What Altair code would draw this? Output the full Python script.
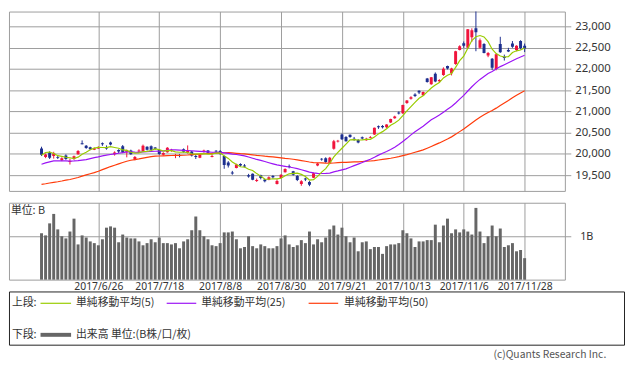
import altair as alt
import pandas as pd

# ---------------- data ----------------
# closes before the displayed window (needed for the moving averages)
pre_close = [19263, 18986, 19203, 19217, 19063, 18909,
             18983, 18810, 18861, 18597, 18665,
             18798, 18748, 18553, 18427, 18336,
             18355, 18419, 18432, 18430, 18621,
             18876, 19079, 19289, 19252, 19197,
             19311, 19446,
             19896, 19843, 19900, 19962, 19884,
             19870, 19920, 19815, 19554, 19591,
             19678, 19613, 19743, 19813, 19687,
             19683, 19678, 19651,
             19860, 20177, 20171]

opens = [20130, 19930, 20030, 19950, 19930, 19850, 19960, 19810, 19880, 19990,
         20252, 20190, 20160, 20100, 20130, 20250, 20150, 20270, 19990, 20090,
         20180, 20040, 20080, 19870, 20060, 20070, 20170, 20180, 20150, 20090,
         19980, 20040, 20080, 19950, 19975, 20110, 20030, 20060, 19950, 19910,
         20060, 20080, 19930, 20075, 20070, 19950, 19800, 19560, 19670, 19760,
         19725, 19500, 19530, 19360, 19500, 19400, 19390, 19480, 19290, 19430,
         19570, 19710, 19590, 19480, 19290, 19420, 19340, 19440, 19730, 19885,
         19900, 19780, 20120, 20290, 20460, 20400, 20450, 20360, 20330, 20390,
         20320, 20380, 20460, 20650, 20660, 20630, 20740, 20840, 20975, 20960,
         21200, 21300, 21400, 21490, 21380, 21780, 21640, 21890, 21710, 21860,
         22070, 21900, 22120, 22450, 22610, 22500, 22750, 22960, 22500, 22590,
         22320, 22240, 22000, 22590, 22290, 22450, 22600, 22450, 22660, 22550]

highs = [20170, 20010, 20060, 20050, 19960, 19920, 19990, 19880, 19960, 20090,
         20318, 20210, 20170, 20150, 20180, 20270, 20200, 20290, 20060, 20110,
         20210, 20100, 20100, 19950, 20110, 20220, 20180, 20200, 20160, 20100,
         20040, 20160, 20120, 20000, 20000, 20130, 20200, 20070, 19990, 19990,
         20100, 20090, 19990, 20090, 20090, 19960, 19830, 19600, 19770, 19780,
         19760, 19530, 19540, 19420, 19510, 19410, 19470, 19500, 19400, 19520,
         19660, 19750, 19600, 19500, 19380, 19440, 19360, 19560, 19790, 19900,
         19920, 19930, 20330, 20330, 20480, 20420, 20460, 20400, 20350, 20410,
         20380, 20420, 20620, 20670, 20680, 20700, 20830, 20900, 21000, 21160,
         21270, 21360, 21430, 21500, 21470, 21790, 21810, 21920, 21760, 22040,
         22080, 22030, 22430, 22560, 22650, 22940, 22960, 23382, 22720, 22610,
         22400, 22260, 22370, 22760, 22340, 22500, 22660, 22560, 22680, 22600]

lows = [19950, 19900, 19880, 19890, 19880, 19830, 19860, 19750, 19860, 19980,
        20225, 20120, 20090, 20090, 20120, 20190, 20100, 20200, 19960, 20020,
        20020, 19920, 19980, 19850, 20040, 20060, 20080, 20090, 20100, 19980,
        19960, 20030, 20050, 19900, 19920, 20030, 20010, 19940, 19880, 19900,
        20030, 20000, 19920, 20030, 19980, 19650, 19680, 19510, 19660, 19700,
        19680, 19440, 19380, 19340, 19400, 19330, 19380, 19420, 19280, 19420,
        19560, 19660, 19490, 19360, 19250, 19360, 19240, 19430, 19710, 19840,
        19790, 19760, 20100, 20270, 20330, 20290, 20380, 20310, 20250, 20340,
        20310, 20370, 20450, 20590, 20600, 20610, 20730, 20830, 20930, 20940,
        21180, 21280, 21340, 21410, 21370, 21680, 21630, 21690, 21680, 21840,
        21990, 21850, 22100, 22440, 22500, 22480, 22640, 22420, 22480, 22370,
        22280, 21980, 21970, 22380, 22200, 22400, 22500, 22420, 22460, 22400]

closes = [19980, 19985, 19909, 20013, 19908, 19898, 19883, 19831, 19943, 20067,
          20230, 20138, 20110, 20132, 20153, 20225, 20130, 20220, 20033, 20055,
          20032, 20081, 19994, 19929, 20081, 20195, 20098, 20100, 20119, 20000,
          20021, 20145, 20100, 19976, 19955, 20050, 20080, 19960, 19925, 19986,
          20080, 20029, 19952, 20056, 19996, 19739, 19730, 19537, 19753, 19729,
          19703, 19470, 19393, 19384, 19435, 19354, 19453, 19450, 19363, 19507,
          19646, 19691, 19508, 19386, 19358, 19397, 19275, 19546, 19777, 19866,
          19807, 19910, 20299, 20310, 20347, 20296, 20398, 20330, 20267, 20363,
          20356, 20401, 20614, 20627, 20629, 20691, 20824, 20881, 20955, 21155,
          21256, 21336, 21363, 21449, 21458, 21697, 21805, 21708, 21740, 22008,
          22012, 22012, 22420, 22539, 22548, 22937, 22914, 22869, 22681, 22381,
          22380, 22028, 22351, 22397, 22262, 22416, 22523, 22551, 22496, 22486]

volumes = [1.08, 1.03, 1.31, 1.53, 1.17, 1.01, 0.96, 1.12, 1.42, 0.82,
           1.03, 0.98, 0.89, 0.85, 0.80, 0.94, 1.21, 1.24, 1.21, 0.87,
           1.05, 0.98, 0.96, 0.96, 0.89, 0.80, 0.85, 0.94, 0.87, 0.98,
           0.85, 0.85, 0.82, 0.85, 0.73, 0.89, 0.94, 1.15, 1.47, 1.15,
           1.01, 0.94, 0.80, 0.78, 0.85, 1.10, 1.10, 1.12, 0.94, 0.73,
           0.76, 1.01, 0.78, 0.73, 0.82, 0.78, 0.73, 0.73, 0.78, 0.96,
           1.03, 0.82, 0.76, 0.80, 0.92, 0.85, 1.12, 0.82, 0.94, 0.87,
           0.98, 1.17, 1.26, 1.05, 1.21, 1.01, 0.87, 0.98, 0.66, 0.87,
           0.89, 0.71, 0.76, 0.76, 0.60, 0.78, 0.82, 0.82, 0.85, 1.15,
           1.08, 0.96, 0.76, 0.89, 0.89, 0.92, 0.92, 1.28, 0.87, 1.26,
           1.42, 1.08, 1.17, 1.10, 1.17, 1.12, 1.05, 1.67, 1.12, 0.85,
           1.01, 1.26, 1.01, 1.19, 0.76, 0.80, 0.85, 0.66, 0.69, 0.50]

date_labels = ["2017/6/26", "2017/7/18", "2017/8/8", "2017/8/30",
               "2017/9/21", "2017/10/13", "2017/11/6", "2017/11/28"]
date_idx = [14, 29, 44, 59, 74, 89, 104, 119]
price_ticks = [19500, 20000, 20500, 21000, 21500, 22000, 22500, 23000]
ma_labels = ["単純移動平均(5)", "単純移動平均(25)", "単純移動平均(50)"]
vol_label = "出来高 単位:(B株/口/枚)"

# ---------------- table ----------------
rows = []
n_pre = len(pre_close)
for k, c in enumerate(pre_close):
    rows.append({"idx": k - n_pre, "close": c})
for i in range(len(closes)):
    rows.append({"idx": i, "open": opens[i], "high": highs[i], "low": lows[i],
                 "close": closes[i], "vol": volumes[i]})
df = pd.DataFrame(rows)

# ---------------- style ----------------
RED = "#f0143c"
BLUE = "#1d2f8f"
GREEN = "#99cc00"
PURPLE = "#9b14f5"
ORANGE = "#ff3b0a"
GRID = "#9c9c9c"
TXT = "#333333"
JP = "Noto Sans CJK JP"
LAT = "Noto Sans"
W = 564

xscale = alt.Scale(domain=[-6.8, 127.7], nice=False, zero=False)
yscale = alt.Scale(domain=[19128, 23355], nice=False, zero=False)

x_axis_up = alt.Axis(values=date_idx, labels=False, ticks=False, domain=False,
                     grid=True, gridColor=GRID, gridOpacity=1, title=None)
y_axis_up = alt.Axis(orient="right", values=price_ticks, format=",d", grid=True,
                     gridColor=GRID, gridOpacity=1, tickColor=GRID, tickSize=6,
                     labelPadding=4, domain=False, title=None, labelFont=LAT,
                     labelFontSize=11.5, labelColor=TXT)

X = alt.X("idx:Q", scale=xscale, axis=x_axis_up)

base = alt.Chart(df)
cand = base.transform_filter("datum.idx >= 0")
ccol = alt.condition("datum.close >= datum.open", alt.value(RED), alt.value(BLUE))

wicks = cand.mark_rule(strokeWidth=1, clip=True).encode(
    x=X, y=alt.Y("low:Q", scale=yscale, axis=y_axis_up), y2="high:Q", color=ccol)
bodies = cand.mark_bar(size=3, clip=True).encode(
    x=X, y=alt.Y("open:Q", scale=yscale, axis=y_axis_up), y2="close:Q", color=ccol)

ma = (base
      .transform_window(ma5="mean(close)", frame=[-4, 0], sort=[alt.SortField("idx")])
      .transform_window(ma25="mean(close)", frame=[-24, 0], sort=[alt.SortField("idx")])
      .transform_window(ma50="mean(close)", frame=[-49, 0], sort=[alt.SortField("idx")])
      .transform_filter("datum.idx >= 0"))

def ma_line(field, color):
    return ma.mark_line(color=color, strokeWidth=1.2, clip=True).encode(
        x=X, y=alt.Y(field + ":Q", scale=yscale, axis=y_axis_up))

upper = alt.layer(wicks, bodies, ma_line("ma50", ORANGE), ma_line("ma25", PURPLE),
                  ma_line("ma5", GREEN)).properties(width=W, height=182)

# ---------------- volume ----------------
lab_arr = "[" + ",".join("'%s'" % s for s in date_labels) + "]"
x_axis_vol = alt.Axis(values=date_idx, labelExpr=lab_arr + "[round((datum.value - 14) / 15)]",
                      ticks=False, domain=False, grid=True, gridColor=GRID, gridOpacity=1,
                      labelPadding=2, labelFont=LAT, labelFontSize=10.5, labelColor=TXT,
                      title=None, labelFlush=False, labelOverlap=False)
y_axis_vol = alt.Axis(orient="right", values=[1], labelExpr="'1B'", grid=True,
                      gridColor=GRID, gridOpacity=1, tickColor=GRID, tickSize=6,
                      labelPadding=9, domain=False, title=None, labelFont=LAT,
                      labelFontSize=11, labelColor=TXT)

vbars = cand.mark_bar(size=3, color="#666666").encode(
    x=alt.X("idx:Q", scale=xscale, axis=x_axis_vol),
    y=alt.Y("vol:Q", scale=alt.Scale(domain=[0, 1.79], nice=False), axis=y_axis_vol))

one = alt.Data(values=[{"k": 1}])

def txt(s, x, y, align="left", size=11, color=TXT, font=JP):
    return alt.Chart(one).mark_text(text=s, align=align, baseline="middle",
                                    font=font, fontSize=size, color=color).encode(
        x=alt.value(x), y=alt.value(y))

def seg(x1, x2, y, color, w):
    return alt.Chart(one).mark_rule(color=color, strokeWidth=w).encode(
        x=alt.value(x1), x2=alt.value(x2), y=alt.value(y))

volume = alt.layer(vbars, txt("単位: B", 2, 8)).properties(width=W, height=78)

# ---------------- legend box ----------------
r1, r2 = 12, 44
legend = alt.layer(
    txt("上段:", 3, r1),
    seg(32, 63, r1, GREEN, 1.2), txt(ma_labels[0], 68, r1),
    seg(160, 190, r1, PURPLE, 1.2), txt(ma_labels[1], 195, r1),
    seg(304, 334, r1, ORANGE, 1.2), txt(ma_labels[2], 340, r1),
    txt("下段:", 3, r2),
    seg(32, 63, r2, "#666666", 4), txt(vol_label, 68, r2),
    txt("(c)Quants Research Inc.", 606, 65, align="right", size=10.5, color="#555555"),
).properties(width=624, height=54,
             view=alt.ViewBackground(stroke="#222222", strokeWidth=1))

chart = (alt.vconcat(upper, volume, legend, spacing=12, bounds="flush")
         .properties(padding=0, background="white")
         .configure_view(stroke=GRID, strokeWidth=1))

chart.save("out.html", embed_options={"renderer": "svg", "actions": False})
